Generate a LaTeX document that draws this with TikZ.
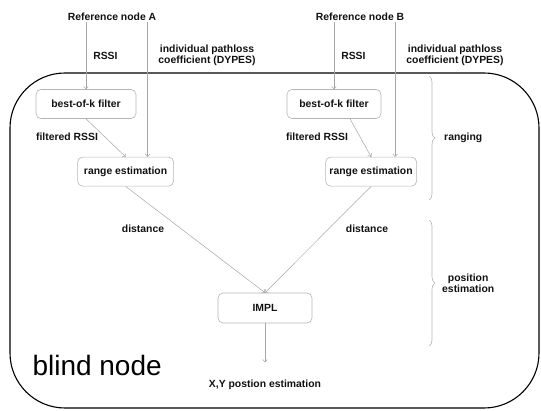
\documentclass[tikz,border=0pt]{standalone}
\usepackage{fontspec}
\setmainfont{Liberation Sans}
\usetikzlibrary{
  arrows.meta,
  positioning,
  calc,
  decorations.pathreplacing
}
\definecolor{linegray}{HTML}{A6A6A6}
\definecolor{boxgray}{HTML}{B4B4B4}
\definecolor{textprimary}{HTML}{111111}
\tikzset{
  base/.style={
    text=textprimary,
    font=\bfseries\fontsize{10.4}{11}\selectfont,
    align=center,
    inner sep=1pt,
  },
  procbox/.style={
    base,
    draw=boxgray,
    rounded corners=5pt,
    minimum width=#1,
    minimum height=29pt,
    line width=0.6pt,
  },
  procbox/.default=94pt,
  flow/.style={
    -{To[length=3pt, width=5pt]},
    line width=0.5pt,
    draw=linegray,
  },
  elabel/.style={
    base,
  },
  bracket/.style={
    decorate,
    decoration={brace, amplitude=6pt},
    line width=0.6pt,
    draw=boxgray,
  },
}

\begin{document}
\begin{tikzpicture}[x=1pt, y=1pt]

\useasboundingbox (0,0) rectangle (541,410);

% === Blind node frame ===

\draw[line width=1.1pt, rounded corners=55pt] (10,2) rectangle (539,337);
\node[anchor=base west, font=\fontsize{28}{30}\selectfont]
  (blind) at (29,35) {blind node};

% === Reference nodes ===

\node[elabel] (refA) at (112,393) {Reference node A};
\node[elabel] (refB) at (360,393) {Reference node B};

% === Ranging A ===

\node[procbox=100pt] (filtA) at (86,306) {best-of-k filter};
\node[procbox=96pt, below right=38pt and -59pt of filtA]
  (rangeA) {range estimation};

\draw[flow] (refA.south -| filtA.north) -- node[elabel, right=6pt] {RSSI} (filtA.north);
\draw[flow] ([xshift=22pt]rangeA.north |- refA.south) -- ([xshift=22pt]rangeA.north);
\draw[flow] (filtA.south) -- (rangeA.north);
\node[elabel, anchor=north] (dypA) at (207,366) {individual pathloss\\coefficient (DYPES)};
\node[elabel] (frA) at (67,273) {filtered RSSI};

% === Ranging B ===

\node[procbox=94pt] (filtB) at (334,306) {best-of-k filter};
\node[procbox=91pt, below right=38pt and -56pt of filtB]
  (rangeB) {range estimation};

\draw[flow] (refB.south -| filtB.north) -- node[elabel, right=6pt] {RSSI} (filtB.north);
\draw[flow] ([xshift=24pt]rangeB.north |- refB.south) -- ([xshift=24pt]rangeB.north);
\draw[flow] ([xshift=16pt]filtB.south) -- (rangeB.north);
\node[elabel, anchor=north] (dypB) at (455,366) {individual pathloss\\coefficient (DYPES)};
\node[elabel] (frB) at (317,273) {filtered RSSI};

% === Position estimation ===

\node[procbox=94pt, minimum height=30pt] (impl) at (265,102) {IMPL};
\node[elabel, below=55pt of impl] (out) {X,Y postion estimation};

\draw[flow] (rangeA.south) -- (impl.north);
\draw[flow] (rangeB.south) -- (impl.north);
\draw[flow, shorten >=16pt] (impl.south) -- (out.north);

\node[elabel] (distA) at (143,181) {distance};
\node[elabel] (distB) at (367,181) {distance};

% === Braces ===

\draw[bracket] (429,334) -- coordinate (rtip) (429,210);
\node[elabel, right=14pt of rtip] (ranging) {ranging};
\draw[bracket] (429,190) -- coordinate (ptip) (429,64);
\node[elabel, right=12pt of ptip] (posest) {position\\estimation};

\end{tikzpicture}
\end{document}
